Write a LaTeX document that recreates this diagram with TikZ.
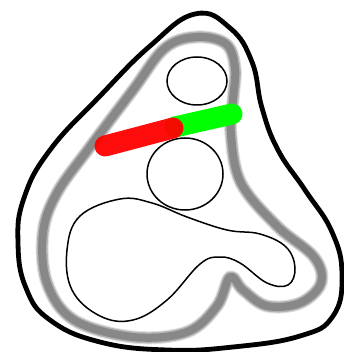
\documentclass[tikz,border=0pt]{standalone}
\definecolor{rgink}{HTML}{000000}
\definecolor{rggrey}{HTML}{888888}
\definecolor{rgred}{HTML}{FF0000}
\definecolor{rggreen}{HTML}{00FF00}

\begin{document}
\begin{tikzpicture}[
  x=1pt, y=-1pt,
  shell/.style={draw=rgink, line width=4.8pt},
  thin/.style={draw=rgink, line width=1.5pt},
  ring/.style={draw=rggrey, line cap=round, line join=round},
  bar/.style={line width=21pt, line cap=round},
]
\useasboundingbox (0,0) rectangle (344,352);

% ---------- outer shell ----------
\draw[shell] plot[smooth cycle, tension=0.75] coordinates {
  (195,14) (230,28) (252,62) (262,108) (278,150) (305,190)
  (332,232) (342,275) (333,316) (300,336) (233,347) (167,350)
  (100,342) (50,320) (26,288) (18,243) (24,198) (50,150)
  (100,96) (150,46)};

% ---------- grey ring, soft edge ----------
\def\ringpath{plot[smooth cycle, tension=0.6] coordinates {
  (197,37) (226,44) (235,68) (233,100) (231,135) (241,183)
  (277,226) (314,257) (321,283) (300,303) (267,306) (243,290)
  (230,277) (217,306) (187,332) (133,337) (74,320) (47,283)
  (43,233) (57,193) (90,147) (133,90) (165,48)}}
\draw[ring, draw opacity=0.25, line width=13pt] \ringpath;
\draw[ring, draw opacity=0.5,  line width=11pt] \ringpath;
\draw[ring, line width=8pt] \ringpath;

% ---------- upper ellipse and middle circle ----------
\draw[thin] (197,81) ellipse (30 and 24);
\draw[thin] (185,174) ellipse (38 and 36);

% ---------- lower blob ----------
\draw[thin] plot[smooth cycle, tension=0.65] coordinates {
  (120,199) (152,203) (187,217) (227,230) (260,234) (286,247)
  (295,268) (288,285) (267,283) (240,263) (220,257) (200,264)
  (167,300) (133,320) (100,316) (72,290) (67,250) (80,216)};

% ---------- red / green bar ----------
\draw[bar, rggreen] (175,127) -- (232,114);
\draw[bar, rgred, opacity=0.95] (105,146) -- (173,128);

\end{tikzpicture}
\end{document}
